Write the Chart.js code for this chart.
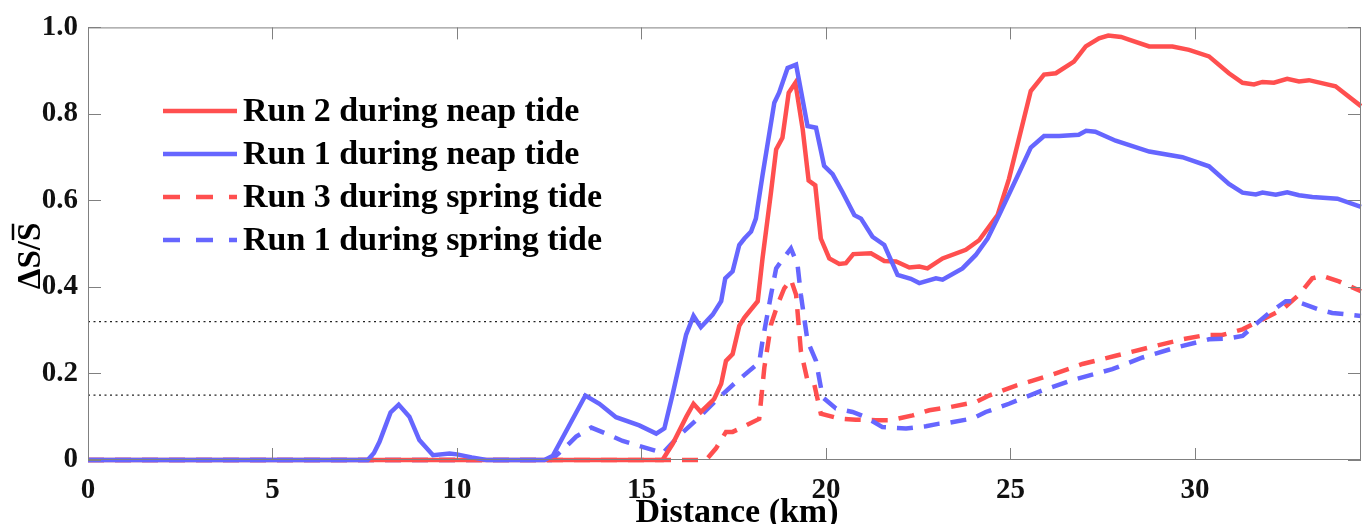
<!DOCTYPE html>
<html>
<head>
<meta charset="utf-8">
<script src="https://cdn.jsdelivr.net/npm/chart.js@4.4.1/dist/chart.umd.min.js"></script>
<style>
  html, body { margin: 0; padding: 0; background: #fff; }
  #wrap { width: 1362px; height: 524px; }
</style>
</head>
<body>
<div id="wrap"><canvas id="salinityChart"></canvas></div>
<script>
// distance along channel (km) and ΔS/S̄
const run1NeapKm = [0, 7.58, 7.75, 7.9, 8.05, 8.2, 8.42, 8.71, 8.98, 9.35, 9.8, 10.0, 10.4, 10.8, 12.37, 12.6, 13.48, 13.86, 14.31, 14.94, 15.4, 15.62, 15.85, 16.21, 16.41, 16.61, 16.93, 17.16, 17.27, 17.47, 17.65, 17.79, 17.97, 18.1, 18.28, 18.6, 18.73, 18.96, 19.19, 19.5, 19.73, 19.95, 20.18, 20.45, 20.77, 20.95, 21.26, 21.58, 21.94, 22.3, 22.53, 22.98, 23.16, 23.7, 24.06, 24.38, 24.69, 25.24, 25.55, 25.91, 26.32, 26.85, 27.05, 27.3, 27.85, 28.76, 29.66, 30.38, 30.92, 31.29, 31.65, 31.83, 32.19, 32.5, 32.82, 33.18, 33.86, 34.5];
const run1NeapVal = [0, 0, 0.016, 0.042, 0.076, 0.11, 0.128, 0.10, 0.046, 0.011, 0.015, 0.013, 0.006, 0, 0, 0.01, 0.149, 0.13, 0.099, 0.08, 0.061, 0.073, 0.154, 0.29, 0.333, 0.307, 0.336, 0.367, 0.42, 0.436, 0.497, 0.512, 0.528, 0.558, 0.658, 0.826, 0.849, 0.906, 0.914, 0.772, 0.768, 0.68, 0.661, 0.619, 0.566, 0.558, 0.516, 0.497, 0.428, 0.419, 0.409, 0.42, 0.417, 0.443, 0.474, 0.512, 0.566, 0.665, 0.722, 0.749, 0.749, 0.752, 0.761, 0.759, 0.738, 0.713, 0.70, 0.679, 0.638, 0.618, 0.614, 0.618, 0.613, 0.619, 0.612, 0.608, 0.604, 0.585];

const run2NeapKm = [0, 15.57, 15.85, 16.21, 16.41, 16.61, 16.97, 17.16, 17.29, 17.47, 17.65, 17.79, 18.15, 18.28, 18.51, 18.65, 18.82, 18.99, 19.17, 19.37, 19.53, 19.71, 19.86, 20.09, 20.36, 20.54, 20.74, 21.22, 21.58, 21.9, 22.26, 22.53, 22.75, 23.16, 23.79, 24.15, 24.65, 24.96, 25.55, 25.91, 26.23, 26.72, 27.04, 27.4, 27.65, 28.0, 28.21, 28.76, 29.39, 29.84, 30.38, 30.92, 31.29, 31.6, 31.83, 32.14, 32.5, 32.82, 33.09, 33.81, 34.5];
const run2NeapVal = [0, 0, 0.038, 0.099, 0.13, 0.111, 0.141, 0.176, 0.229, 0.245, 0.31, 0.329, 0.367, 0.466, 0.619, 0.718, 0.745, 0.849, 0.872, 0.764, 0.646, 0.635, 0.512, 0.466, 0.453, 0.455, 0.476, 0.478, 0.46, 0.459, 0.445, 0.447, 0.443, 0.466, 0.486, 0.508, 0.566, 0.65, 0.853, 0.891, 0.894, 0.921, 0.956, 0.975, 0.981, 0.978, 0.972, 0.956, 0.956, 0.948, 0.933, 0.894, 0.872, 0.868, 0.874, 0.872, 0.881, 0.875, 0.878, 0.864, 0.818];

const run3SpringKm = [0, 16.75, 17.02, 17.29, 17.47, 17.65, 18.19, 18.33, 18.51, 18.69, 18.87, 19.05, 19.19, 19.32, 19.5, 19.68, 19.86, 20.36, 20.81, 21.35, 21.76, 22.35, 22.8, 23.34, 24.06, 24.42, 25.15, 26.05, 26.95, 27.85, 28.76, 29.66, 30.29, 30.74, 31.29, 31.74, 32.37, 32.82, 33.18, 33.45, 33.9, 34.5];
const run3SpringVal = [0, 0, 0.027, 0.065, 0.065, 0.072, 0.095, 0.214, 0.313, 0.359, 0.397, 0.417, 0.382, 0.252, 0.183, 0.176, 0.107, 0.096, 0.093, 0.092, 0.092, 0.103, 0.115, 0.122, 0.134, 0.149, 0.172, 0.195, 0.222, 0.241, 0.26, 0.279, 0.289, 0.289, 0.302, 0.321, 0.348, 0.382, 0.42, 0.426, 0.413, 0.39];

const run1SpringKm = [0, 12.55, 12.91, 13.23, 13.64, 14.04, 14.49, 15.48, 15.57, 16.03, 16.57, 17.02, 17.56, 17.92, 18.19, 18.28, 18.51, 18.65, 18.82, 19.05, 19.23, 19.32, 19.5, 19.73, 19.91, 20.27, 20.72, 21.08, 21.53, 22.17, 22.71, 23.07, 23.34, 23.97, 24.33, 24.96, 25.87, 26.77, 27.76, 28.58, 29.48, 30.38, 30.92, 31.29, 31.69, 32.01, 32.46, 32.73, 33.36, 33.72, 34.5];
const run1SpringVal = [0, 0, 0.027, 0.054, 0.075, 0.061, 0.044, 0.019, 0.015, 0.057, 0.099, 0.138, 0.18, 0.206, 0.225, 0.275, 0.382, 0.443, 0.463, 0.489, 0.451, 0.382, 0.275, 0.229, 0.145, 0.119, 0.111, 0.099, 0.076, 0.073, 0.078, 0.084, 0.086, 0.096, 0.111, 0.13, 0.161, 0.187, 0.21, 0.237, 0.26, 0.279, 0.281, 0.287, 0.317, 0.34, 0.367, 0.367, 0.348, 0.34, 0.333];

const thresholds = [0.15, 0.32];
const xTicks = [0, 5, 10, 15, 20, 25, 30];
const yTicks = [0, 0.2, 0.4, 0.6, 0.8, 1.0];
const xMax = 34.5;

const RED = '#ff4f4f';
const BLUE = '#6666ff';
const SERIF = '"Liberation Serif", "Times New Roman", serif';

function pairs(km, val) {
    return km.map((k, i) => ({ x: k, y: val[i] }));
}

// legend entries in the order shown on the figure
const legendItems = [
    { label: 'Run 2 during neap tide', color: RED, dash: [] },
    { label: 'Run 1 during neap tide', color: BLUE, dash: [] },
    { label: 'Run 3 during spring tide', color: RED, dash: [17, 16] },
    { label: 'Run 1 during spring tide', color: BLUE, dash: [17, 16] }
];

// first dataset is drawn on top
const datasets = [
    { data: pairs(run1NeapKm, run1NeapVal), borderColor: BLUE, borderWidth: 4.5 },
    { data: pairs(run2NeapKm, run2NeapVal), borderColor: RED, borderWidth: 4.5 },
    { data: pairs(run1SpringKm, run1SpringVal), borderColor: BLUE, borderWidth: 4.5, borderDash: [16, 11] },
    { data: pairs(run3SpringKm, run3SpringVal), borderColor: RED, borderWidth: 4.5, borderDash: [16, 11] }
];
thresholds.forEach(t => {
    datasets.push({ data: [{ x: 0, y: t }, { x: xMax, y: t }], borderColor: '#222', borderWidth: 1.3, borderDash: [2, 3.5] });
});

// box, inward ticks, legend and axis titles (MATLAB look)
const frameAndLegend = {
    id: 'frameAndLegend',
    afterDraw(chart) {
        const { ctx, chartArea: a, scales: { x, y } } = chart;
        ctx.save();
        ctx.strokeStyle = '#808080';
        ctx.lineWidth = 1;
        ctx.setLineDash([]);
        ctx.strokeRect(a.left + 0.5, a.top + 0.5, a.right - a.left - 1, a.bottom - a.top - 1);
        ctx.beginPath();
        x.ticks.forEach(t => {
            const px = Math.round(x.getPixelForValue(t.value)) + 0.5;
            ctx.moveTo(px, a.bottom); ctx.lineTo(px, a.bottom - 12);
            ctx.moveTo(px, a.top); ctx.lineTo(px, a.top + 12);
        });
        y.ticks.forEach(t => {
            const py = Math.round(y.getPixelForValue(t.value)) + 0.5;
            ctx.moveTo(a.left, py); ctx.lineTo(a.left + 13, py);
            ctx.moveTo(a.right, py); ctx.lineTo(a.right - 13, py);
        });
        ctx.stroke();

        // legend
        ctx.font = 'bold 34px ' + SERIF;
        ctx.textBaseline = 'middle';
        ctx.textAlign = 'left';
        legendItems.forEach((item, i) => {
            const cy = 111 + i * 43;
            ctx.strokeStyle = item.color;
            ctx.lineWidth = 4.5;
            ctx.setLineDash(item.dash);
            ctx.beginPath();
            ctx.moveTo(163, cy); ctx.lineTo(237, cy);
            ctx.stroke();
            ctx.fillStyle = '#000';
            ctx.fillText(item.label, 243, cy + 1);
        });
        ctx.setLineDash([]);

        // x title
        ctx.font = 'bold 34px ' + SERIF;
        ctx.textAlign = 'center';
        ctx.textBaseline = 'alphabetic';
        ctx.fillText('Distance (km)', 737, 522);

        // y title  ΔS/S̄
        ctx.translate(31, 256);
        ctx.rotate(-Math.PI / 2);
        ctx.font = 'bold 33px ' + SERIF;
        ctx.textAlign = 'center';
        ctx.textBaseline = 'middle';
        const txt = '\u0394S/S';
        ctx.fillText(txt, 0, 0);
        const w = ctx.measureText(txt).width;
        const sw = ctx.measureText('S').width;
        ctx.strokeStyle = '#000';
        ctx.lineWidth = 2.5;
        ctx.beginPath();
        ctx.moveTo(w / 2 - sw + 1, -18);
        ctx.lineTo(w / 2 - 1, -18);
        ctx.stroke();
        ctx.restore();
    }
};

new Chart(document.getElementById('salinityChart'), {
    type: 'line',
    data: { datasets: datasets },
    options: {
        responsive: true,
        maintainAspectRatio: false,
        animation: false,
        events: [],
        layout: { padding: { top: 24, right: 1, left: 0, bottom: 0 } },
        datasets: {
            line: { pointRadius: 0, tension: 0, fill: false, clip: 6 }
        },
        plugins: {
            legend: { display: false },
            tooltip: { enabled: false }
        },
        scales: {
            x: {
                type: 'linear',
                min: 0,
                max: xMax,
                grid: { display: false, drawTicks: false },
                border: { display: false },
                afterBuildTicks: s => { s.ticks = xTicks.map(v => ({ value: v })); },
                afterFit: s => { s.height = 64; },
                ticks: {
                    padding: 13,
                    color: '#111',
                    font: { family: SERIF, size: 29, weight: 'bold' },
                    callback: v => String(v)
                }
            },
            y: {
                min: 0,
                max: 1,
                grid: { display: false, drawTicks: false },
                border: { display: false },
                afterBuildTicks: s => { s.ticks = yTicks.map(v => ({ value: v })); },
                afterFit: s => { s.width = 88; },
                ticks: {
                    padding: 10,
                    color: '#111',
                    font: { family: SERIF, size: 29, weight: 'bold' },
                    callback: v => v === 0 ? '0' : v.toFixed(1)
                }
            }
        }
    },
    plugins: [frameAndLegend]
});
</script>
</body>
</html>
